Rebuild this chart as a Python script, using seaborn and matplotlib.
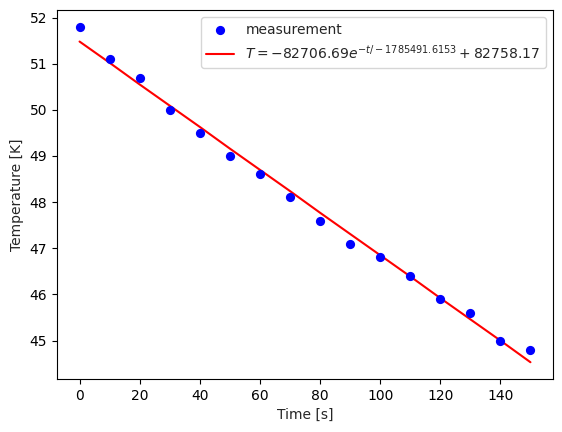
import numpy as np
import pandas as pd
import matplotlib
matplotlib.use('Agg')
import matplotlib.pyplot as plt
import seaborn as sns

# measured data
time_s = [0, 10, 20, 30, 40, 50, 60, 70, 80, 90, 100, 110, 120, 130, 140, 150]
temp_k = [51.8, 51.1, 50.7, 50.0, 49.5, 49.0, 48.6, 48.1, 47.6, 47.1, 46.8, 46.4, 45.9, 45.6, 45.0, 44.8]
# fitted curve values at the same times
temp_fit = [51.48, 51.02, 50.55, 50.09, 49.63, 49.16, 48.70, 48.24,
            47.77, 47.31, 46.85, 46.39, 45.92, 45.46, 45.00, 44.53]
fit_label = r'$T = -82706.69 e^{-t/-1785491.6153} + 82758.17$'

sns.set_style('ticks')
plt.rcParams['font.family'] = ['DejaVu Sans']

df = pd.DataFrame({'t': time_s, 'T': temp_k, 'fit': temp_fit})

fig, ax = plt.subplots(figsize=(5.62, 4.32), dpi=100)
fig.subplots_adjust(left=57/562, right=553/562, top=1-10/432, bottom=1-379/432)

sns.scatterplot(data=df, x='t', y='T', ax=ax, color='blue', s=44, edgecolor='blue',
                linewidth=0, label='measurement', zorder=3)
sns.lineplot(data=df, x='t', y='fit', ax=ax, color='red', linewidth=1.5, label=fit_label)

ax.set_xlabel('Time [s]')
ax.set_ylabel('Temperature [K]')
ax.set_xticks([0, 20, 40, 60, 80, 100, 120, 140])
ax.set_yticks([45, 46, 47, 48, 49, 50, 51, 52])
for s in ax.spines.values():
    s.set_visible(True)
    s.set_color('black')
    s.set_linewidth(0.8)
ax.tick_params(direction='out', length=3.5, width=0.8, colors='black')
ax.legend(loc='upper right')

fig.savefig('out.png', dpi=100)
